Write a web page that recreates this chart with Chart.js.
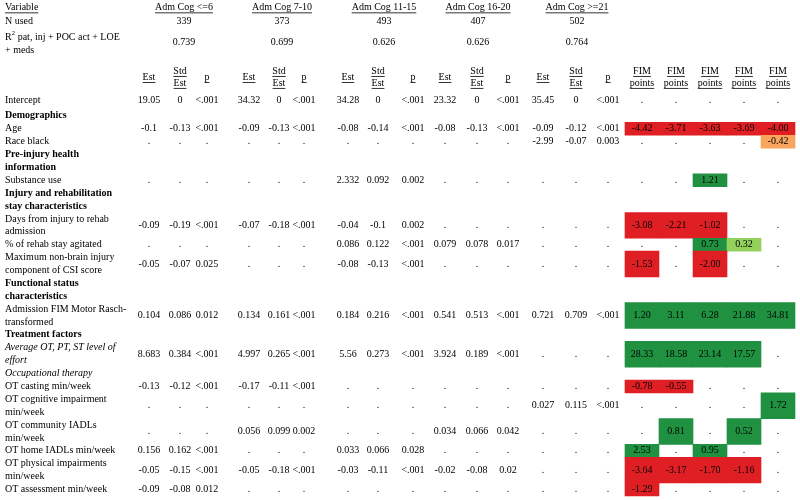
<!DOCTYPE html>
<html>
<head>
<meta charset="utf-8">
<script src="https://cdn.jsdelivr.net/npm/chart.js@4.4.0/dist/chart.umd.min.js"></script>
<style>
  html, body { margin: 0; padding: 0; background: #fff; }
  #wrap { width: 800px; height: 500px; }
</style>
</head>
<body>
<div id="wrap"><canvas id="tbl"></canvas></div>
<script>
var groupTitles = ['Adm Cog <=6', 'Adm Cog 7-10', 'Adm Cog 11-15', 'Adm Cog 16-20', 'Adm Cog >=21'];
var nUsed = ['339', '373', '493', '407', '502'];
var rSquared = ['0.739', '0.699', '0.626', '0.626', '0.764'];
var statHeads = [['Est'], ['Std', 'Est'], ['p']];
var fimHead = ['FIM', 'points'];

var rowLabels = [
    ['Intercept'],
    ['Demographics'],
    ['Age'],
    ['Race black'],
    ['Pre-injury health', 'information'],
    ['Substance use'],
    ['Injury and rehabilitation', 'stay characteristics'],
    ['Days from injury to rehab', 'admission'],
    ['% of rehab stay agitated'],
    ['Maximum non-brain injury', 'component of CSI score'],
    ['Functional status', 'characteristics'],
    ['Admission FIM Motor Rasch-', 'transformed'],
    ['Treatment factors'],
    ['Average OT, PT, ST level of', 'effort'],
    ['Occupational therapy'],
    ['OT casting min/week'],
    ['OT cognitive impairment', 'min/week'],
    ['OT community IADLs', 'min/week'],
    ['OT home IADLs min/week'],
    ['OT physical impairments', 'min/week'],
    ['OT assessment min/week']
];
var rowStyle = ['', 'bold', '', '', 'bold', '', 'bold', '', '', '', 'bold', '', 'bold', 'italic', 'italic', '', '', '', '', '', ''];

var D = ['.', '.', '.']; // not in model

// Est, Std Est, p for each admission cognition group (null = section heading)
var cogLe6 = [
    ['19.05', '0', '<.001'], null, ['-0.1', '-0.13', '<.001'], D, null, D, null,
    ['-0.09', '-0.19', '<.001'], D, ['-0.05', '-0.07', '0.025'], null, ['0.104', '0.086', '0.012'], null,
    ['8.683', '0.384', '<.001'], null, ['-0.13', '-0.12', '<.001'], D, D, ['0.156', '0.162', '<.001'],
    ['-0.05', '-0.15', '<.001'], ['-0.09', '-0.08', '0.012']
];
var cog7to10 = [
    ['34.32', '0', '<.001'], null, ['-0.09', '-0.13', '<.001'], D, null, D, null,
    ['-0.07', '-0.18', '<.001'], D, D, null, ['0.134', '0.161', '<.001'], null,
    ['4.997', '0.265', '<.001'], null, ['-0.17', '-0.11', '<.001'], D, ['0.056', '0.099', '0.002'], D,
    ['-0.05', '-0.18', '<.001'], D
];
var cog11to15 = [
    ['34.28', '0', '<.001'], null, ['-0.08', '-0.14', '<.001'], D, null, ['2.332', '0.092', '0.002'], null,
    ['-0.04', '-0.1', '0.002'], ['0.086', '0.122', '<.001'], ['-0.08', '-0.13', '<.001'], null, ['0.184', '0.216', '<.001'], null,
    ['5.56', '0.273', '<.001'], null, D, D, D, ['0.033', '0.066', '0.028'],
    ['-0.03', '-0.11', '<.001'], D
];
var cog16to20 = [
    ['23.32', '0', '<.001'], null, ['-0.08', '-0.13', '<.001'], D, null, D, null,
    D, ['0.079', '0.078', '0.017'], D, null, ['0.541', '0.513', '<.001'], null,
    ['3.924', '0.189', '<.001'], null, D, D, ['0.034', '0.066', '0.042'], D,
    ['-0.02', '-0.08', '0.02'], D
];
var cogGe21 = [
    ['35.45', '0', '<.001'], null, ['-0.09', '-0.12', '<.001'], ['-2.99', '-0.07', '0.003'], null, D, null,
    D, D, D, null, ['0.721', '0.709', '<.001'], null,
    D, null, D, ['0.027', '0.115', '<.001'], D, D,
    D, D
];

// FIM points per group and the colour class of each cell
// r = red, o = orange, g = green, l = light green, . = none
var fimPoints = [
    ['.', '.', '.', '.', '.'], null,
    ['-4.42', '-3.71', '-3.63', '-3.69', '-4.00'],
    ['.', '.', '.', '.', '-0.42'], null,
    ['.', '.', '1.21', '.', '.'], null,
    ['-3.08', '-2.21', '-1.02', '.', '.'],
    ['.', '.', '0.73', '0.32', '.'],
    ['-1.53', '.', '-2.00', '.', '.'], null,
    ['1.20', '3.11', '6.28', '21.88', '34.81'], null,
    ['28.33', '18.58', '23.14', '17.57', '.'], null,
    ['-0.78', '-0.55', '.', '.', '.'],
    ['.', '.', '.', '.', '1.72'],
    ['.', '0.81', '.', '0.52', '.'],
    ['2.53', '.', '0.95', '.', '.'],
    ['-3.64', '-3.17', '-1.70', '-1.16', '.'],
    ['-1.29', '.', '.', '.', '.']
];
var fimSig = [
    '.....', null, 'rrrrr', '....o', null, '..g..', null, 'rrr..', '..gl.', 'r.r..', null,
    'ggggg', null, 'gggg.', null, 'rr...', '....g', '.g.g.', 'g.g..', 'rrrr.', 'r....'
];

// ---- layout (table units on the x scale, text lines on the y scale) ----
var colX = [149, 180, 207, 249, 279, 304, 348, 378, 413, 445, 477, 508, 543, 576, 608];
var fimX = [642, 676, 710, 744, 778];
var groupMid = [184, 282, 384, 478, 577];
var labelX = 5;
var sigColors = { r: '#e01f25', o: '#f8a55e', g: '#1f9140', l: '#93d05c' };
var FONT = '"Liberation Serif", "Times New Roman", serif';
var SIZE = 10;

var groups = [cogLe6, cog7to10, cog11to15, cog16to20, cogGe21];

// top of each row in line units
var rowTop = [];
var acc = 0;
rowLabels.forEach(function (l) {
    rowTop.push(acc);
    acc += l.length;
});

// coloured cells become floating bars
var cells = [];
fimSig.forEach(function (s, r) {
    if (!s) return;
    for (var j = 0; j < 5; j++) {
        var k = s.charAt(j);
        if (k !== '.') {
            cells.push({ x: fimX[j], y: [rowTop[r], rowTop[r] + rowLabels[r].length], k: k });
        }
    }
});

var tableText = {
    id: 'tableText',
    afterDatasetsDraw: function (chart) {
        var ctx = chart.ctx;
        var xs = chart.scales.x;
        var ys = chart.scales.y;
        ctx.save();
        ctx.fillStyle = '#000';
        ctx.textBaseline = 'middle';

        function put(txt, xv, yv, align, style, under) {
            ctx.font = (style ? style + ' ' : '') + SIZE + 'px ' + FONT;
            ctx.textAlign = align;
            var px = xs.getPixelForValue(xv);
            var py = ys.getPixelForValue(yv);
            ctx.fillText(txt, px, py);
            if (under) {
                var w = ctx.measureText(txt).width;
                var x0 = align === 'center' ? px - w / 2 : px;
                ctx.fillRect(x0, py + 5, w, 0.8);
            }
        }

        // header block
        put('Variable', labelX, -6.92, 'left', '', true);
        put('N used', labelX, -5.82, 'left', '', false);
        // R squared label with superscript
        ctx.font = SIZE + 'px ' + FONT;
        ctx.textAlign = 'left';
        var rx = xs.getPixelForValue(labelX);
        var ry = ys.getPixelForValue(-4.57);
        ctx.fillText('R', rx, ry);
        var rw = ctx.measureText('R').width;
        ctx.font = '6.5px ' + FONT;
        ctx.fillText('2', rx + rw, ry - 4);
        ctx.font = SIZE + 'px ' + FONT;
        ctx.fillText(' pat, inj + POC act + LOE', rx + rw + 3.5, ry);
        put('+ meds', labelX, -3.62, 'left', '', false);

        groups.forEach(function (g, gi) {
            put(groupTitles[gi], groupMid[gi], -6.92, 'center', '', true);
            put(nUsed[gi], groupMid[gi], -5.82, 'center', '', false);
            put(rSquared[gi], groupMid[gi], -4.22, 'center', '', false);
            statHeads.forEach(function (h, si) {
                var cx = colX[gi * 3 + si];
                if (h.length === 1) {
                    put(h[0], cx, -1.52, 'center', '', true);
                } else {
                    put(h[0], cx, -1.99, 'center', '', true);
                    put(h[1], cx, -1.06, 'center', '', true);
                }
            });
        });
        fimX.forEach(function (fx) {
            put(fimHead[0], fx, -1.99, 'center', '', true);
            put(fimHead[1], fx, -1.06, 'center', '', true);
        });

        // body rows
        rowLabels.forEach(function (lines, r) {
            var top = rowTop[r];
            // the intercept row sits a little higher under the header block
            var nudge = r === 0 ? -0.2 : 0;
            lines.forEach(function (t, li) {
                put(t, labelX, top + li + 0.5 + nudge, 'left', rowStyle[r], false);
            });
            var mid = top + lines.length / 2 + nudge;
            groups.forEach(function (g, gi) {
                if (!g[r]) return;
                g[r].forEach(function (v, si) {
                    put(v, colX[gi * 3 + si], mid, 'center', '', false);
                });
            });
            if (fimPoints[r]) {
                fimPoints[r].forEach(function (v, j) {
                    put(v, fimX[j], mid, 'center', '', false);
                });
            }
        });
        ctx.restore();
    }
};

var tblCtx = document.getElementById('tbl').getContext('2d');
var tblChart = new Chart(tblCtx, {
    type: 'bar',
    data: {
        datasets: [{
            data: cells,
            backgroundColor: function (c) {
                return c.raw ? sigColors[c.raw.k] : 'transparent';
            },
            borderWidth: 0,
            grouped: false,
            barPercentage: 1,
            categoryPercentage: 1
        }]
    },
    options: {
        responsive: true,
        maintainAspectRatio: false,
        animation: false,
        layout: { padding: 0 },
        plugins: {
            legend: { display: false },
            tooltip: { enabled: false }
        },
        scales: {
            x: { type: 'linear', min: 0, max: 800, offset: false, display: false },
            y: { type: 'linear', min: -7.5, max: 31.32, reverse: true, display: false }
        }
    },
    plugins: [tableText]
});
</script>
</body>
</html>
